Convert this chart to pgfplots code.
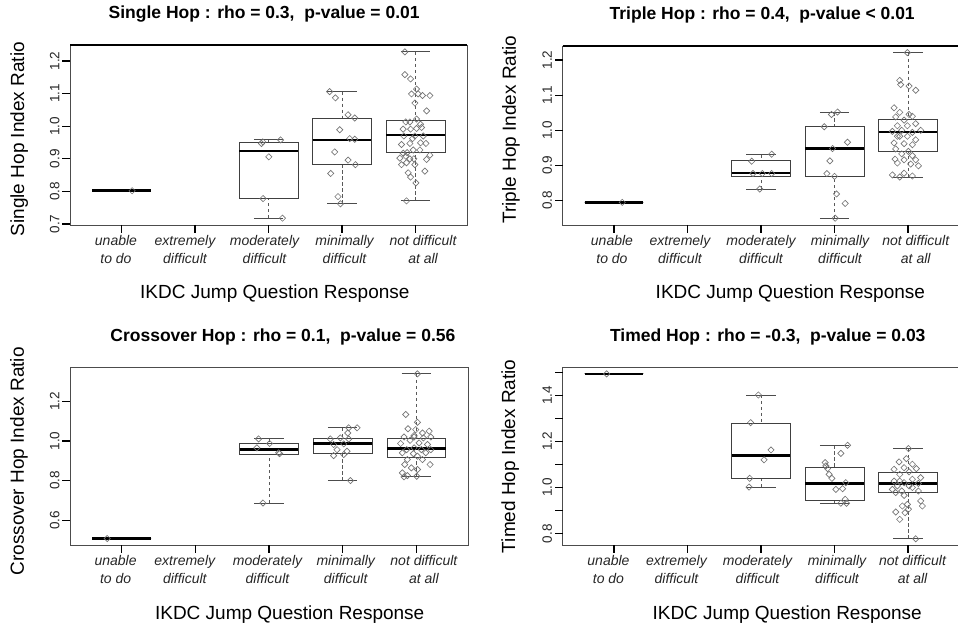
\documentclass[border=0pt]{standalone}
\usepackage{fontspec}
\setmainfont{Liberation Sans}
\usepackage{pgfplots}
\pgfplotsset{compat=1.18}
\usepgfplotslibrary{statistics}
\tikzset{
  whiskline/.style={black!65, line width=0.8pt, dash pattern=on 3.5pt off 2.5pt},
  capline/.style={black!70, line width=0.9pt, solid},
  tickln/.style={draw=black, line width=1.2pt, solid},
}
\pgfplotsset{
  hop/.style={
    scale only axis,
    clip=false,
    xmin=0.3, xmax=5.7,
    xtick={1,2,3,4,5},
    xticklabels={{unable\\to do},{extremely\\difficult},{moderately\\difficult},{minimally\\difficult},{not difficult\\at all}},
    xticklabel style={font=\fontsize{14}{18}\selectfont\itshape, align=center, text=black!85},
    tick pos=left, tick align=outside, major tick length=0pt,
    xticklabel shift=7pt, yticklabel shift=7pt,
    axis line style={black!70, line width=0.9pt},
    yticklabel style={rotate=90, anchor=south, font=\fontsize{13.5}{16}\selectfont, text=black!85},
    /pgf/number format/assume math mode=true,
    /pgf/number format/fixed,
    /pgf/number format/fixed zerofill,
    /pgf/number format/precision=1,
    title style={font=\fontsize{17.5}{20}\selectfont\bfseries, anchor=base, yshift=20pt},
    xlabel={IKDC Jump Question Response},
    xlabel style={font=\fontsize{19}{22}\selectfont, anchor=base, yshift=-74pt},
    ylabel style={font=\fontsize{19}{22}\selectfont, anchor=center},
    boxplot/draw direction=y,
    boxplot/box extend=0.8,
    boxplot/whisker extend=0.4,
    boxplot/every median/.style={black, line width=2.6pt, solid},
    boxplot/draw/lower whisker/.code={%
      \draw[whiskline] (boxplot cs:\pgfplotsboxplotvalue{lower whisker}) -- (boxplot cs:\pgfplotsboxplotvalue{lower quartile});
      \draw[capline] (boxplot whisker cs:\pgfplotsboxplotvalue{lower whisker},0) -- (boxplot whisker cs:\pgfplotsboxplotvalue{lower whisker},1);
    },
    boxplot/draw/upper whisker/.code={%
      \draw[whiskline] (boxplot cs:\pgfplotsboxplotvalue{upper whisker}) -- (boxplot cs:\pgfplotsboxplotvalue{upper quartile});
      \draw[capline] (boxplot whisker cs:\pgfplotsboxplotvalue{upper whisker},0) -- (boxplot whisker cs:\pgfplotsboxplotvalue{upper whisker},1);
    },
  },
  pts/.style={only marks, mark=square, mark size=2.2pt, mark options={rotate=45, draw=black!55, line width=0.65pt, fill=none, solid}},
  bx/.style={black!75, line width=0.8pt, solid},
  xlabshift/.style={xticklabel style={xshift={{#1}[\ticknum]*1pt}}},
}
\begin{document}
\begin{tikzpicture}
\useasboundingbox (0,0) rectangle (958pt,626pt);
% ---------------- Panel 1: Single Hop
\begin{axis}[hop, at={(70pt,401pt)}, anchor=south west, width=397pt, height=180pt,
  ymin=0.697, ymax=1.249, ytick={0.7,0.8,0.9,1.0,1.1,1.2},
  title={Single Hop : rho = 0.3,\ \ p-value = 0.01}, title style={at={(axis description cs:0.489,1)}},
  xlabel style={at={(axis description cs:0.516,0)}},
  ylabel={Single Hop Index Ratio}, ylabel style={at={(axis description cs:-0.128,0.477)}},
  xlabshift={-5.5,-10,-4,2.5,7.5}]
\addplot[bx, boxplot prepared={draw position=1, lower whisker=0.802, lower quartile=0.802, median=0.802, upper quartile=0.802, upper whisker=0.802}] coordinates {};
\addplot[bx, boxplot prepared={draw position=3, lower whisker=0.718, lower quartile=0.779, median=0.924, upper quartile=0.951, upper whisker=0.958}] coordinates {};
\addplot[bx, boxplot prepared={draw position=4, lower whisker=0.762, lower quartile=0.882, median=0.958, upper quartile=1.024, upper whisker=1.106}] coordinates {};
\addplot[bx, boxplot prepared={draw position=5, lower whisker=0.772, lower quartile=0.919, median=0.973, upper quartile=1.018, upper whisker=1.228}] coordinates {};
\addplot[pts] table {
x y
1.145 0.802
2.905 0.947
2.922 0.952
3.164 0.958
3.004 0.906
2.926 0.778
3.19 0.718
3.832 1.106
3.91 1.087
4.082 1.035
4.173 1.025
3.969 0.989
4.105 0.962
4.173 0.960
3.9 0.921
4.082 0.896
4.183 0.882
3.846 0.855
3.945 0.784
3.978 0.762
4.855 1.228
4.855 1.158
4.932 1.145
5.014 1.114
5.036 1.099
4.945 1.099
5.095 1.094
5.195 1.094
4.991 1.071
5.15 1.047
4.868 1.013
4.923 1.013
5.014 1.022
5.068 1.006
4.832 0.991
4.932 0.991
5.014 0.993
5.082 0.996
4.991 0.970
5.105 0.970
4.923 0.947
5.068 0.949
5.141 0.947
4.809 0.944
4.832 0.917
5.059 0.927
4.968 0.927
4.886 0.919
5.195 0.911
4.786 0.902
4.868 0.908
4.923 0.900
4.977 0.900
5.15 0.898
4.809 0.882
4.877 0.888
4.991 0.882
5.127 0.862
4.9 0.857
4.932 0.844
5.005 0.826
4.877 0.771
4.841 0.970
4.959 0.962
};
\pgfplotsinvokeforeach{1,2,3,4,5}{\draw[tickln] ({axis cs:#1,1} |- {rel axis cs:0,0}) -- ++(0pt,-8pt);}
\pgfplotsinvokeforeach{0.7,0.8,0.9,1.0,1.1,1.2}{\draw[tickln] ({rel axis cs:0,0} |- {axis cs:1,#1}) -- ++(-8pt,0pt);}
\draw[black, line width=1.6pt] (rel axis cs:0,1) -- (rel axis cs:1,1);
\end{axis}
% ---------------- Panel 2: Triple Hop
\begin{axis}[hop, at={(562.5pt,401pt)}, anchor=south west, width=397pt, height=179pt,
  ymin=0.7306, ymax=1.2399, ytick={0.8,0.9,1.0,1.1,1.2},
  title={Triple Hop : rho = 0.4,\ \ p-value < 0.01}, title style={at={(axis description cs:0.503,1)}},
  xlabel style={at={(axis description cs:0.574,0)}},
  ylabel={Triple Hop Index Ratio}, ylabel style={at={(axis description cs:-0.130,0.533)}},
  xlabshift={-2,-7.5,0,5.5,7.7}]
\addplot[bx, boxplot prepared={draw position=1, lower whisker=0.795, lower quartile=0.795, median=0.795, upper quartile=0.795, upper whisker=0.795}] coordinates {};
\addplot[bx, boxplot prepared={draw position=3, lower whisker=0.833, lower quartile=0.869, median=0.878, upper quartile=0.914, upper whisker=0.932}] coordinates {};
\addplot[bx, boxplot prepared={draw position=4, lower whisker=0.750, lower quartile=0.869, median=0.948, upper quartile=1.010, upper whisker=1.052}] coordinates {};
\addplot[bx, boxplot prepared={draw position=5, lower whisker=0.867, lower quartile=0.940, median=0.995, upper quartile=1.032, upper whisker=1.221}] coordinates {};
\addplot[pts] table {
x y
1.113 0.795
2.873 0.912
3.145 0.932
2.891 0.877
3.018 0.877
3.145 0.877
2.982 0.833
4.041 1.052
3.959 1.045
3.86 1.010
4.177 0.966
3.973 0.948
3.937 0.913
3.896 0.877
4.0 0.869
4.027 0.819
4.145 0.792
4.009 0.750
4.991 1.221
4.887 1.142
4.9 1.130
5.014 1.126
5.104 1.114
4.81 1.064
4.887 1.051
5.014 1.045
4.832 1.038
5.059 1.040
4.946 1.029
5.104 1.019
4.855 1.013
4.991 1.013
4.787 0.997
4.914 1.000
5.059 0.994
5.172 1.000
4.855 0.983
4.991 0.983
4.81 0.964
4.946 0.962
5.059 0.959
5.104 0.973
4.832 0.947
5.005 0.940
4.914 0.933
5.059 0.928
4.823 0.918
4.946 0.916
5.104 0.916
4.855 0.907
5.036 0.904
5.141 0.899
4.787 0.873
4.887 0.867
5.059 0.870
4.946 0.878
4.887 0.983
};
\pgfplotsinvokeforeach{1,2,3,4,5}{\draw[tickln] ({axis cs:#1,1} |- {rel axis cs:0,0}) -- ++(0pt,-8pt);}
\pgfplotsinvokeforeach{0.8,0.9,1.0,1.1,1.2}{\draw[tickln] ({rel axis cs:0,0} |- {axis cs:1,#1}) -- ++(-8pt,0pt);}
\draw[black, line width=1.6pt] (rel axis cs:0,1) -- (rel axis cs:1.01,1);
\end{axis}
% ---------------- Panel 3: Crossover Hop
\begin{axis}[hop, at={(70pt,80.7pt)}, anchor=south west, width=398pt, height=178pt,
  ymin=0.474, ymax=1.371, ytick={0.6,0.8,1.0,1.2},
  title={Crossover Hop : rho = 0.1,\ \ p-value = 0.56}, title style={at={(axis description cs:0.535,1)}},
  xlabel style={at={(axis description cs:0.552,0)}},
  ylabel={Crossover Hop Index Ratio}, ylabel style={at={(axis description cs:-0.128,0.472)}},
  xlabshift={-6,-10.5,-1.5,3,7.5}]
\addplot[bx, boxplot prepared={draw position=1, lower whisker=0.508, lower quartile=0.508, median=0.508, upper quartile=0.508, upper whisker=0.508}] coordinates {};
\addplot[bx, boxplot prepared={draw position=3, lower whisker=0.687, lower quartile=0.933, median=0.956, upper quartile=0.985, upper whisker=1.010}] coordinates {};
\addplot[bx, boxplot prepared={draw position=4, lower whisker=0.800, lower quartile=0.935, median=0.987, upper quartile=1.015, upper whisker=1.066}] coordinates {};
\addplot[bx, boxplot prepared={draw position=5, lower whisker=0.819, lower quartile=0.919, median=0.961, upper quartile=1.015, upper whisker=1.338}] coordinates {};
\addplot[pts] table {
x y
0.805 0.508
2.859 1.010
3.009 0.987
2.836 0.965
3.132 0.940
3.145 0.936
2.918 0.687
4.082 1.066
4.195 1.066
4.068 1.040
3.832 1.010
3.968 1.015
4.082 1.010
3.877 0.982
4.014 0.985
3.923 0.956
4.059 0.948
3.877 0.926
4.014 0.931
4.105 0.800
5.014 1.338
4.855 1.133
5.014 1.094
4.886 1.061
4.991 1.057
5.173 1.049
5.082 1.040
4.968 1.027
4.832 1.020
5.095 1.015
5.195 1.020
4.914 1.003
5.036 0.990
4.786 0.987
5.15 0.982
4.968 0.965
4.868 0.956
5.068 0.956
5.195 0.956
4.809 0.940
4.959 0.936
5.127 0.940
5.014 0.923
4.877 0.906
5.082 0.906
5.186 0.881
4.841 0.881
4.932 0.864
5.014 0.856
4.809 0.839
4.877 0.825
5.005 0.822
4.832 0.819
4.968 1.020
};
\pgfplotsinvokeforeach{1,2,3,4,5}{\draw[tickln] ({axis cs:#1,1} |- {rel axis cs:0,0}) -- ++(0pt,-8pt);}
\pgfplotsinvokeforeach{0.6,0.8,1.0,1.2}{\draw[tickln] ({rel axis cs:0,0} |- {axis cs:1,#1}) -- ++(-8pt,0pt);}
\end{axis}
% ---------------- Panel 4: Timed Hop
\begin{axis}[hop, at={(562.5pt,80.7pt)}, anchor=south west, width=397pt, height=178pt,
  ymin=0.7497, ymax=1.521, ytick={0.8,0.9,1.0,1.1,1.2,1.3,1.4,1.5},
  yticklabels={0.8,,1.0,,1.2,,1.4,},
  title={Timed Hop : rho = -0.3,\ \ p-value = 0.03}, title style={at={(axis description cs:0.517,1)}},
  xlabel style={at={(axis description cs:0.566,0)}},
  ylabel={Timed Hop Index Ratio}, ylabel style={at={(axis description cs:-0.132,0.5)}},
  xlabshift={-5.5,-11,-3.5,2.5,4.5}]
\addplot[bx, boxplot prepared={draw position=1, lower whisker=1.4925, lower quartile=1.4925, median=1.4925, upper quartile=1.4925, upper whisker=1.4925}] coordinates {};
\addplot[bx, boxplot prepared={draw position=3, lower whisker=1.002, lower quartile=1.040, median=1.140, upper quartile=1.277, upper whisker=1.401}] coordinates {};
\addplot[bx, boxplot prepared={draw position=4, lower whisker=0.932, lower quartile=0.946, median=1.018, upper quartile=1.086, upper whisker=1.183}] coordinates {};
\addplot[bx, boxplot prepared={draw position=5, lower whisker=0.778, lower quartile=0.978, median=1.018, upper quartile=1.065, upper whisker=1.169}] coordinates {};
\addplot[pts] table {
x y
0.9 1.4925
2.964 1.401
2.859 1.281
3.136 1.163
3.041 1.120
2.846 1.040
2.837 1.002
4.177 1.183
4.086 1.148
3.873 1.108
3.905 1.082
3.927 1.057
3.964 1.040
4.154 1.021
4.018 0.992
4.109 0.995
4.145 0.949
4.086 0.932
4.163 0.932
3.882 1.094
5.005 1.169
4.977 1.125
4.878 1.111
5.059 1.101
4.946 1.086
5.113 1.082
4.81 1.079
5.014 1.068
4.887 1.057
5.172 1.043
5.059 1.036
4.81 1.028
4.946 1.021
5.141 1.018
4.855 1.007
5.014 1.007
4.787 0.992
4.914 0.985
5.141 0.985
4.832 0.978
4.946 0.966
5.172 0.942
4.991 0.927
4.923 0.920
5.195 0.920
4.832 0.894
4.959 0.891
4.887 0.862
5.005 0.906
5.104 0.778
5.059 1.000
4.887 1.028
};
\pgfplotsinvokeforeach{1,2,3,4,5}{\draw[tickln] ({axis cs:#1,1} |- {rel axis cs:0,0}) -- ++(0pt,-8pt);}
\pgfplotsinvokeforeach{0.8,0.9,1.0,1.1,1.2,1.3,1.4,1.5}{\draw[tickln] ({rel axis cs:0,0} |- {axis cs:1,#1}) -- ++(-8pt,0pt);}
\end{axis}
\end{tikzpicture}
\end{document}
